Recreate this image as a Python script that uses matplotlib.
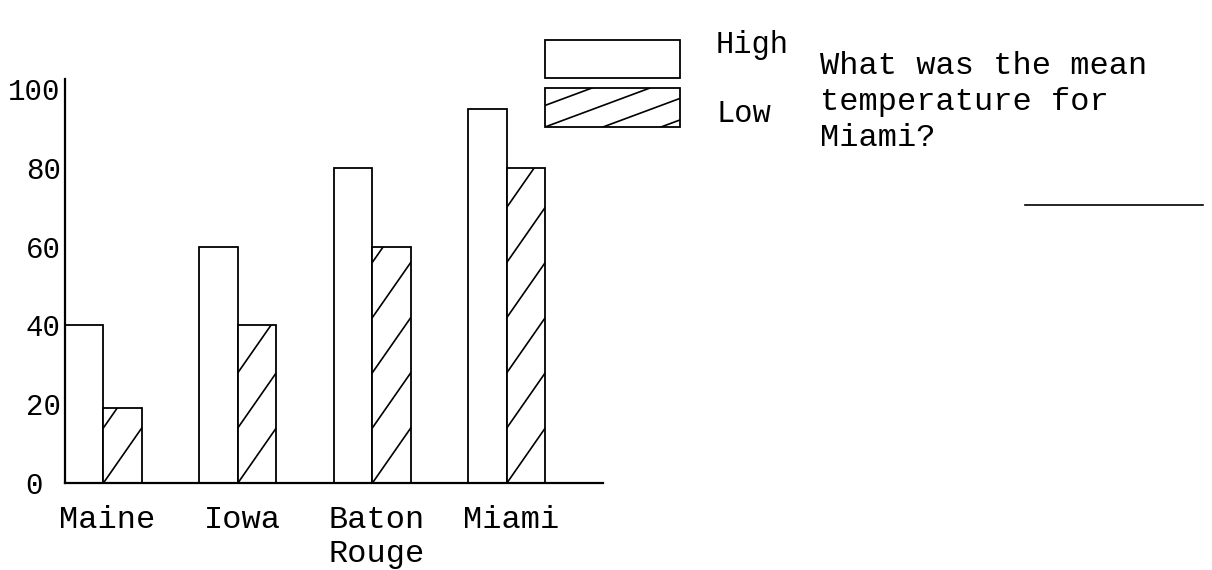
import numpy as np
import matplotlib
matplotlib.use("Agg")
import matplotlib.pyplot as plt
import matplotlib.transforms as mtransforms
from matplotlib.patches import Rectangle
from matplotlib.lines import Line2D

# data
cities = ["Maine", "Iowa", "Baton\nRouge", "Miami"]
high_temps = [40, 60, 80, 95]
low_temps = [19, 40, 60, 80]
y_ticks = [0, 20, 40, 60, 80, 100]
series_names = ["High", "Low"]
question = "What was the mean\ntemperature for\nMiami?"

W, H = 1212, 570
FONT = "Liberation Mono"
plt.rcParams["font.family"] = [FONT, "DejaVu Sans"]


def fx(px):
    return px / W


def fy(py):
    return 1 - py / H


fig = plt.figure(figsize=(W / 100, H / 100), dpi=100)
ax = fig.add_axes([fx(65), fy(483), fx(603 - 65), (483 - 79) / H])

groups = np.arange(len(cities)) * 3.5
edge = dict(edgecolor="black", linewidth=1.3, facecolor="white")
ax.bar(groups - 0.5, high_temps, width=1.0, **edge)
low_bars = ax.bar(groups + 0.5, low_temps, width=1.0, **edge)

# sparse diagonal hatching, clipped to each low bar
rise = 14
for rect in low_bars:
    x0 = rect.get_x()
    h = rect.get_height()
    b = 0
    while b < h:
        ln = Line2D([x0, x0 + 1], [b, b + rise], color="black", linewidth=1.2)
        ax.add_line(ln)
        ln.set_clip_path(rect)
        b += rise

ax.set_xlim(-1, 13)
ax.set_ylim(0, 102.5)
ax.set_xticks(groups)
ax.set_xticklabels(cities, fontsize=23, linespacing=1.15)
ax.set_yticks(y_ticks)
ax.set_yticklabels([str(t) for t in y_ticks], fontsize=21)
ax.tick_params(length=0)
ax.tick_params(axis="x", pad=16)
ax.tick_params(axis="y", pad=3)
for s in ["top", "right"]:
    ax.spines[s].set_visible(False)
for s in ["left", "bottom"]:
    ax.spines[s].set_linewidth(1.6)

# small nudges so labels sit where the original put them
nudge_x = mtransforms.ScaledTranslation(4 / 100, 0, fig.dpi_scale_trans)
for t in ax.xaxis.get_major_ticks():
    t.label1.set_transform(t.label1.get_transform() + nudge_x)
zero_tick = ax.yaxis.get_major_ticks()[0]
nudge_zero = mtransforms.ScaledTranslation(-18 / 100, 0, fig.dpi_scale_trans)
zero_tick.label1.set_transform(zero_tick.label1.get_transform() + nudge_zero)

# legend drawn by hand
box_hi = Rectangle((fx(545), fy(78)), fx(135), 38 / H, transform=fig.transFigure,
                   facecolor="white", edgecolor="black", linewidth=1.3)
box_lo = Rectangle((fx(545), fy(127)), fx(135), 39 / H, transform=fig.transFigure,
                   facecolor="white", edgecolor="black", linewidth=1.3)
fig.add_artist(box_hi)
fig.add_artist(box_lo)
for start in [487, 545, 603, 661]:
    ln = Line2D([fx(start), fx(start + 105)], [fy(127), fy(88)],
                transform=fig.transFigure, color="black", linewidth=1.2)
    fig.add_artist(ln)
    ln.set_clip_path(box_lo)

fig.text(fx(716), fy(30), series_names[0], fontsize=22, va="top", ha="left")
fig.text(fx(716), fy(99), series_names[1], fontsize=22, va="top", ha="left")

fig.text(fx(820), fy(51), question, fontsize=23, va="top", ha="left",
         linespacing=1.25)
fig.add_artist(Line2D([fx(1025), fx(1203)], [fy(205), fy(205)],
                      transform=fig.transFigure, color="black", linewidth=1.2))

fig.savefig("out.png", dpi=100)
